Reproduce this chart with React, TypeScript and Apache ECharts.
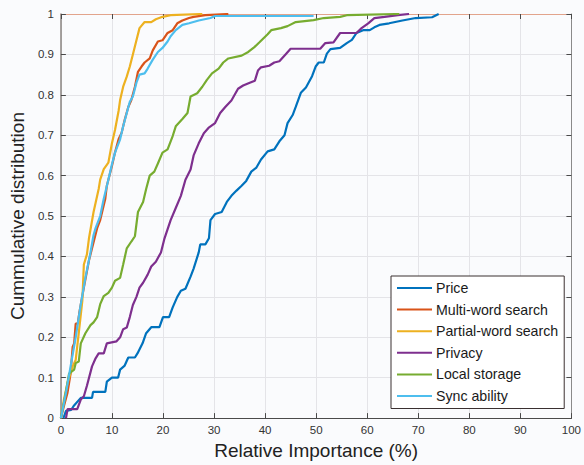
import React, { useEffect, useRef } from "react";
import * as echarts from "echarts";

const seriesNames = ["Price", "Multi-word search", "Partial-word search", "Privacy", "Local storage", "Sync ability"];
const seriesColors = ["#0072BD", "#D95319", "#EDB120", "#7E2F8E", "#77AC30", "#4DBEEE"];

const xTicks = [0, 10, 20, 30, 40, 50, 60, 70, 80, 90, 100];
const yTicks = [0, 0.1, 0.2, 0.3, 0.4, 0.5, 0.6, 0.7, 0.8, 0.9, 1];

const priceData = [[0.5,0],[1,0.018],[2,0.02],[2.5,0.03],[3.9,0.05],[6.1,0.05],[6.3,0.065],[8.7,0.065],[9,0.09],[10,0.1],[11.2,0.1],[11.6,0.12],[12.5,0.13],[13.2,0.15],[14.5,0.15],[15,0.16],[16,0.185],[16.7,0.21],[17.7,0.225],[19.3,0.225],[20,0.25],[21.2,0.25],[21.9,0.274],[22.8,0.3],[23.5,0.315],[24.4,0.32],[25.4,0.35],[26,0.37],[27,0.41],[27.3,0.43],[28.3,0.43],[29,0.445],[29.3,0.49],[30.2,0.505],[31.5,0.51],[32.5,0.535],[33.4,0.55],[34.4,0.563],[35.4,0.575],[36.3,0.587],[37.3,0.61],[38.3,0.62],[39.2,0.64],[40.5,0.66],[41.8,0.665],[42.8,0.685],[43.8,0.7],[44.4,0.73],[45.4,0.75],[46,0.77],[47,0.805],[48,0.818],[49.2,0.846],[49.9,0.87],[50.5,0.88],[51.5,0.88],[52.1,0.902],[52.8,0.913],[54.7,0.916],[56,0.928],[57,0.936],[57.9,0.953],[59.2,0.96],[60.5,0.96],[61.4,0.967],[62.4,0.973],[64.3,0.977],[66.9,0.984],[69.5,0.99],[72.7,0.992],[74,1]];

const multiWordData = [[0,0],[0.6,0.03],[1.3,0.063],[1.9,0.11],[2.3,0.176],[2.6,0.185],[2.9,0.234],[3.3,0.234],[3.6,0.26],[4.5,0.323],[5.5,0.39],[6.6,0.445],[7.1,0.47],[7.7,0.49],[8.7,0.543],[9,0.575],[10,0.624],[10.6,0.657],[11.3,0.69],[11.9,0.706],[12.5,0.738],[13.2,0.77],[13.8,0.787],[14.5,0.82],[15.1,0.857],[15.8,0.87],[16.4,0.88],[17.4,0.89],[18,0.91],[19,0.932],[19.9,0.935],[20.9,0.953],[21.9,0.96],[22.8,0.977],[23.8,0.984],[25.1,0.99],[26,0.993],[28.3,0.997],[32.8,1]];

const partialWordData = [[0,0],[0.6,0.046],[1.3,0.087],[2.3,0.128],[2.9,0.144],[3.5,0.21],[4.2,0.29],[4.5,0.38],[5.1,0.405],[5.5,0.445],[6.4,0.51],[7.4,0.567],[7.7,0.59],[8.4,0.616],[9.3,0.632],[10,0.68],[10.6,0.713],[11.3,0.76],[11.6,0.787],[12.2,0.82],[12.9,0.845],[13.5,0.87],[14.1,0.9],[14.8,0.935],[15.4,0.965],[16.4,0.98],[17.7,0.98],[18.6,0.987],[19.9,0.993],[21.5,0.997],[27.7,1]];

const privacyData = [[1,0],[1.3,0.022],[3.2,0.022],[3.9,0.046],[4.5,0.054],[5.1,0.08],[6.1,0.128],[6.8,0.148],[7.4,0.16],[8.4,0.16],[9,0.185],[10.9,0.19],[11.6,0.2],[12.2,0.22],[12.9,0.224],[13.5,0.25],[14.1,0.28],[14.8,0.3],[15.4,0.323],[16.1,0.335],[17,0.355],[17.7,0.375],[18.6,0.387],[19.6,0.41],[20.3,0.445],[21.5,0.49],[22.5,0.52],[23.5,0.55],[24.4,0.59],[25.4,0.615],[26,0.65],[27,0.68],[28,0.705],[28.9,0.718],[30.2,0.73],[31.2,0.755],[32.2,0.77],[33.4,0.786],[34.7,0.815],[35.7,0.823],[37,0.83],[38,0.835],[38.6,0.86],[39.2,0.868],[40.8,0.872],[41.8,0.88],[42.8,0.883],[44,0.9],[45,0.914],[50.8,0.914],[51.8,0.928],[53.4,0.93],[54.7,0.953],[57.9,0.953],[58.9,0.965],[60.2,0.977],[61.4,0.99],[63.4,0.993],[66,0.997],[68.2,1]];

const localStorageData = [[0,0],[0.6,0.038],[1.6,0.11],[2.6,0.12],[2.9,0.136],[3.5,0.14],[3.9,0.185],[4.8,0.21],[5.8,0.23],[6.4,0.237],[7.1,0.25],[7.7,0.282],[8.4,0.302],[9.3,0.31],[10,0.323],[10.6,0.34],[11.6,0.347],[12.2,0.38],[12.9,0.42],[13.8,0.437],[14.5,0.45],[15.1,0.51],[16.1,0.535],[16.7,0.567],[17.4,0.6],[18.3,0.61],[19,0.63],[19.9,0.657],[20.9,0.665],[21.9,0.698],[22.5,0.722],[23.8,0.74],[24.8,0.755],[25.4,0.796],[26.7,0.804],[27.7,0.82],[28.6,0.837],[29.6,0.853],[30.9,0.865],[31.8,0.88],[32.8,0.89],[35.4,0.897],[36.7,0.906],[37.9,0.918],[38.9,0.93],[40.5,0.95],[41.2,0.96],[43.1,0.965],[44.4,0.97],[46,0.98],[49.5,0.985],[51.5,0.99],[54.7,0.993],[56,0.997],[66.3,1]];

const syncAbilityData = [[0,0],[1,0.063],[1.9,0.128],[2.9,0.2],[3.9,0.282],[4.8,0.347],[5.8,0.41],[6.4,0.453],[6.8,0.47],[7.7,0.5],[8.4,0.543],[9.3,0.59],[10,0.628],[10.6,0.657],[11.6,0.69],[12.2,0.722],[12.9,0.755],[13.5,0.783],[14.1,0.796],[14.8,0.83],[15.4,0.85],[16.4,0.853],[17,0.865],[18,0.887],[19,0.906],[19.9,0.916],[20.9,0.932],[21.5,0.945],[22.5,0.96],[23.8,0.973],[25.1,0.977],[27,0.984],[29.3,0.99],[30.2,0.995],[49.5,0.995]];

const allData = [priceData, multiWordData, partialWordData, privacyData, localStorageData, syncAbilityData];

const FONT = "Liberation Sans, Arial, Helvetica, sans-serif";

export default function App() {
  const ref = useRef<HTMLDivElement>(null);
  useEffect(() => {
    if (!ref.current) return;
    const chart = echarts.init(ref.current, null, { renderer: "svg" });
    const fmtY = (v: number) => {
      const r = Math.round(v * 10) / 10;
      return yTicks.includes(r) ? String(r) : "";
    };
    const fmtX = (v: number) => (xTicks.includes(v) ? String(v) : "");
    chart.setOption({
      animation: false,
      backgroundColor: "#fafbfd",
      textStyle: { fontFamily: FONT },
      grid: { left: 57, right: 9.5, top: 14, bottom: 42.7, containLabel: false },
      legend: {
        data: seriesNames,
        orient: "vertical",
        left: 391,
        top: 276,
        itemWidth: 35,
        itemHeight: 15,
        itemGap: 7.6,
        padding: [5, 6, 5.5, 5],
        backgroundColor: "#ffffff",
        borderColor: "#3a3030",
        borderWidth: 1,
        borderRadius: 0,
        itemStyle: { color: "rgba(0,0,0,0)", borderColor: "rgba(0,0,0,0)", borderWidth: 0 },
        textStyle: { fontSize: 14.2, color: "#1a1a1a", fontFamily: FONT, padding: [0, 0, 0, -1] },
      },
      xAxis: [
        {
          type: "value",
          min: 0,
          max: 100,
          interval: 10,
          name: "Relative Importance (%)",
          nameLocation: "middle",
          nameGap: 22,
          nameTextStyle: { fontSize: 19, color: "#222", fontFamily: FONT },
          axisLine: { show: true, lineStyle: { color: "#4a4a4a", width: 1 } },
          axisTick: { show: true, inside: true, length: 5, lineStyle: { color: "#4a4a4a" } },
          axisLabel: { fontSize: 11.5, color: "#333", margin: 6, formatter: fmtX },
          splitLine: { show: true, lineStyle: { color: "#e4e4e8", width: 1 } },
        },
        {
          type: "value",
          position: "top",
          min: 0,
          max: 100,
          interval: 10,
          axisLine: { show: true, onZero: false, lineStyle: { color: "#e2a48c", width: 1 } },
          axisTick: { show: true, inside: true, length: 5, lineStyle: { color: "#4a4a4a" } },
          axisLabel: { show: false },
          splitLine: { show: false },
        },
      ],
      yAxis: [
        {
          type: "value",
          min: 0,
          max: 1,
          interval: 0.1,
          name: "Cummulative distribution",
          nameLocation: "middle",
          nameGap: 25,
          nameTextStyle: { fontSize: 19, color: "#222", fontFamily: FONT },
          axisLine: { show: true, lineStyle: { color: "#8a8580", width: 1.5 } },
          axisTick: { show: true, inside: true, length: 5, lineStyle: { color: "#4a4a4a" } },
          axisLabel: { fontSize: 11.5, color: "#333", margin: 7, formatter: fmtY },
          splitLine: { show: true, lineStyle: { color: "#e4e4e8", width: 1 } },
        },
        {
          type: "value",
          position: "right",
          min: 0,
          max: 1,
          interval: 0.1,
          axisLine: { show: true, onZero: false, lineStyle: { color: "#8a8a8a", width: 1 } },
          axisTick: { show: true, inside: true, length: 5, lineStyle: { color: "#4a4a4a" } },
          axisLabel: { show: false },
          splitLine: { show: false },
        },
      ],
      series: seriesNames.map((name, i) => ({
        name,
        type: "line",
        xAxisIndex: 0,
        yAxisIndex: 0,
        data: allData[i],
        showSymbol: false,
        symbol: "none",
        color: seriesColors[i],
        lineStyle: { color: seriesColors[i], width: 2.2 },
        z: 3 + i,
      })),
    });
    return () => chart.dispose();
  }, []);
  return <div ref={ref} style={{ width: 584, height: 465, position: "absolute", left: 0, top: 0 }} />;
}
